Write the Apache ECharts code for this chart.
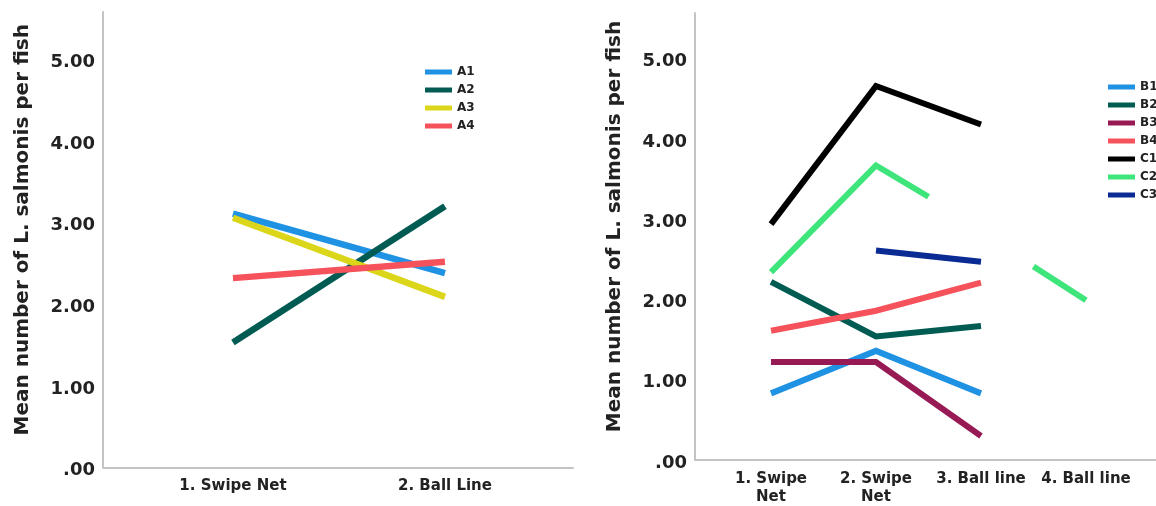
<!DOCTYPE html>
<html>
<head>
<meta charset="utf-8">
<script src="https://cdn.jsdelivr.net/npm/echarts@6/dist/echarts.min.js"></script>
<style>
html,body{margin:0;padding:0;background:#fff;}
#chart{width:1156px;height:506px;}
</style>
</head>
<body>
<div id="chart"></div>
<script>
// ---- Data ----
const leftCategories = ['1. Swipe Net', '2. Ball Line'];
const rightCategories = ['1. Swipe\nNet', '2. Swipe\nNet', '3. Ball line', '4. Ball line'];
const yTicks = [0, 1, 2, 3, 4, 5];
const yTitle = 'Mean number of L. salmonis per fish';

const A1 = [3.11, 2.38];
const A2 = [1.53, 3.20];
const A3 = [3.06, 2.09];
const A4 = [2.32, 2.52];

const B1 = [0.83, 1.36, 0.83, null];
const B2 = [2.22, 1.54, 1.67, null];
const B3 = [1.22, 1.22, 0.30, null];
const B4 = [1.61, 1.86, 2.21, null];
const C1 = [2.94, 4.66, 4.18, null];
const C2 = [2.34, 3.67, null, 1.99];
// dangling half-segments of C2 drawn next to its missing third point [x position, value]
const C2stubs = [[1.5, 3.28], [2.5, 2.41]];
const C3 = [null, 2.61, 2.47, null];

// ---- Build ----
const colors = {
  A1: '#1f92e4', A2: '#005b52', A3: '#dcd61a', A4: '#f6525b',
  B1: '#1f92e4', B2: '#005b52', B3: '#971a55', B4: '#f6525b',
  C1: '#000000', C2: '#3de57b', C3: '#0a2a94'
};
const FONT = 'DejaVu Sans';

function pts(arr) {
  const out = [];
  arr.forEach((v, i) => { if (v !== null) out.push([i, v]); });
  return out;
}
function c2Data() {
  return [[0, C2[0]], [1, C2[1]], C2stubs[0], [2, '-'], C2stubs[1], [3, C2[3]]];
}
function lineSeries(name, data, idx, width) {
  return {
    name: name, type: 'line', xAxisIndex: idx, yAxisIndex: idx,
    data: data, showSymbol: false, symbol: 'none', connectNulls: false,
    lineStyle: { color: colors[name], width: width, cap: 'butt', join: 'miter' },
    itemStyle: { color: colors[name] },
    emphasis: { disabled: true }, z: 2
  };
}
function yAxisCfg(idx, max) {
  return {
    type: 'value', gridIndex: idx, min: 0, max: max, interval: 1,
    axisLine: { show: true, onZero: false, lineStyle: { color: '#c4c4c4', width: 2 } },
    axisTick: { show: false },
    splitLine: { show: false },
    axisLabel: {
      customValues: yTicks, margin: 8, verticalAlign: 'top', lineHeight: 6,
      fontFamily: FONT, fontWeight: 'bold', fontSize: 18, color: '#222',
      formatter: function (v) { return v === 0 ? '.00' : v.toFixed(2); }
    },
    name: yTitle, nameLocation: 'middle', nameRotate: 90, nameGap: 70,
    nameTextStyle: { fontFamily: FONT, fontWeight: 'bold', fontSize: 20, color: '#222', padding: [0, 0, 0, 20] }
  };
}
function xAxisCfg(idx, min, max, cats) {
  return {
    type: 'value', gridIndex: idx, min: min, max: max,
    axisLine: { show: true, onZero: false, lineStyle: { color: '#c4c4c4', width: 2 } },
    axisTick: { show: false },
    splitLine: { show: false },
    axisLabel: {
      customValues: cats.map((c, i) => i), margin: 10,
      fontFamily: FONT, fontWeight: 'bold', fontSize: 15, color: '#222', lineHeight: 18,
      formatter: function (v) { return cats[Math.round(v)]; }
    }
  };
}

const leftNames = ['A1', 'A2', 'A3', 'A4'];
const rightNames = ['B1', 'B2', 'B3', 'B4', 'C1', 'C2', 'C3'];
const leftData = { A1: A1, A2: A2, A3: A3, A4: A4 };
const rightData = { B1: B1, B2: B2, B3: B3, B4: B4, C1: C1, C3: C3 };

const series = [];
leftNames.forEach(n => series.push(lineSeries(n, pts(leftData[n]), 0, 6.5)));
rightNames.forEach(n => series.push(lineSeries(n, n === 'C2' ? c2Data() : pts(rightData[n]), 1, 6)));

const legendCommon = {
  orient: 'vertical', icon: 'rect', itemWidth: 27, itemHeight: 5, itemGap: 4,
  textStyle: { fontFamily: FONT, fontWeight: 'bold', fontSize: 12, color: '#222', lineHeight: 14 },
  selectedMode: false, padding: 0
};

const option = {
  animation: false,
  backgroundColor: '#ffffff',
  grid: [
    { left: 103, right: 583, top: 12, bottom: 38.5 },
    { left: 695, right: 0, top: 13, bottom: 44 }
  ],
  xAxis: [
    xAxisCfg(0, -0.613, 1.604, leftCategories),
    xAxisCfg(1, -0.724, 3.667, rightCategories)
  ],
  yAxis: [yAxisCfg(0, 5.58), yAxisCfg(1, 5.57)],
  legend: [
    Object.assign({}, legendCommon, { left: 425, top: 65, data: leftNames }),
    Object.assign({}, legendCommon, { left: 1108, top: 80, data: rightNames })
  ],
  series: series
};

const chart = echarts.init(document.getElementById('chart'));
chart.setOption(option);
</script>
</body>
</html>
